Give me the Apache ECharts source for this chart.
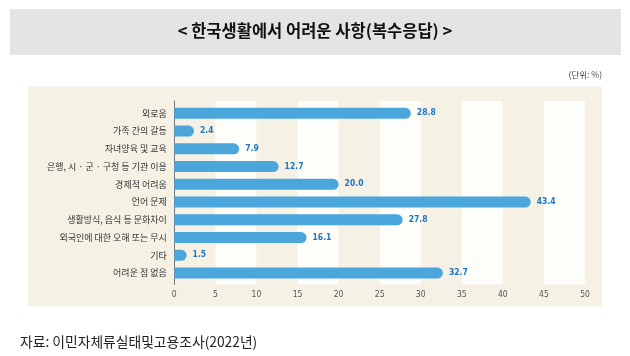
<!DOCTYPE html>
<html><head><meta charset="utf-8">
<script src="https://cdn.jsdelivr.net/npm/echarts@6/dist/echarts.min.js"></script>
<style>html,body{margin:0;padding:0;background:#fff}#c{width:630px;height:356px}</style>
</head><body><div id="c"></div>
<script>
const categories = ['외로움','가족 간의 갈등','자녀양육 및 교육','은행, 시 · 군 · 구청 등 기관 이용','경제적 어려움','언어 문제','생활방식, 음식 등 문화차이','외국인에 대한 오해 또는 무시','기타','어려운 점 없음'];
const values = [28.8, 2.4, 7.9, 12.7, 20.0, 43.4, 27.8, 16.1, 1.5, 32.7];
const xTicks = [0,5,10,15,20,25,30,35,40,45,50];
const titleText = '< 한국생활에서 어려운 사항(복수응답) >';
const unitText = '(단위: %)';
const sourceText = '자료: 이민자체류실태및고용조사(2022년)';

const chart = echarts.init(document.getElementById('c'), null, {renderer:'canvas'});
const KR = '"Noto Sans CJK KR", "Noto Sans", sans-serif';
const NUM = '"DejaVu Sans Condensed", "Liberation Sans Narrow", Roboto, sans-serif';
chart.setOption({
  animation:false,
  backgroundColor:'#ffffff',
  graphic:[
    {type:'rect', shape:{x:10,y:9,width:611,height:46}, style:{fill:'#e4e4e4'}, z:-10},
    {type:'rect', shape:{x:28,y:86.5,width:574,height:220}, style:{fill:'#f5f1e4'}, z:-10},
    {type:'text', left:'center', top:22, style:{text:titleText, font:'bold 16.5px '+KR, fill:'#111'}},
    {type:'text', right:28, top:71, style:{text:unitText, font:'8.5px '+KR, fill:'#444'}},
    {type:'text', left:20, top:335, style:{text:sourceText, font:'13.8px '+KR, fill:'#222'}}
  ],
  grid:[
    {left:174.3, right:45, top:101, height:183.5},
    {left:174.3, right:45, top:104.4, height:177.5}
  ],
  xAxis:[
    {gridIndex:0, type:'value', min:0, max:50, interval:5,
     axisLine:{show:false}, axisTick:{show:false}, splitLine:{show:false},
     splitArea:{show:true, areaStyle:{color:['rgba(0,0,0,0)','#fdfdfa']}},
     axisLabel:{margin:6, fontSize:8.5, color:'#555', fontFamily:NUM,
       formatter:v=> xTicks.includes(v)? String(v):''}},
    {gridIndex:1, type:'value', min:0, max:50, interval:5, show:false}
  ],
  yAxis:[
    {gridIndex:0, type:'value', min:0, max:1,
     axisLine:{show:true, lineStyle:{color:'#777', width:1}}, axisTick:{show:false},
     axisLabel:{show:false}, splitLine:{show:false}},
    {gridIndex:1, type:'category', inverse:true, data:categories,
     axisLine:{show:false}, axisTick:{show:false},
     axisLabel:{margin:7.5, fontSize:9, color:'#333', fontFamily:KR}}
  ],
  series:[
    {type:'bar', xAxisIndex:1, yAxisIndex:1, data:values, barWidth:11,
     itemStyle:{color:'#4ba6dc', borderRadius:[0,6,6,0]},
     label:{show:true, position:'right', distance:6, color:'#1d76bf', fontWeight:'bold',
       fontSize:8.5, fontFamily:NUM, formatter:p=>p.value.toFixed(1)}}
  ]
});
</script></body></html>
